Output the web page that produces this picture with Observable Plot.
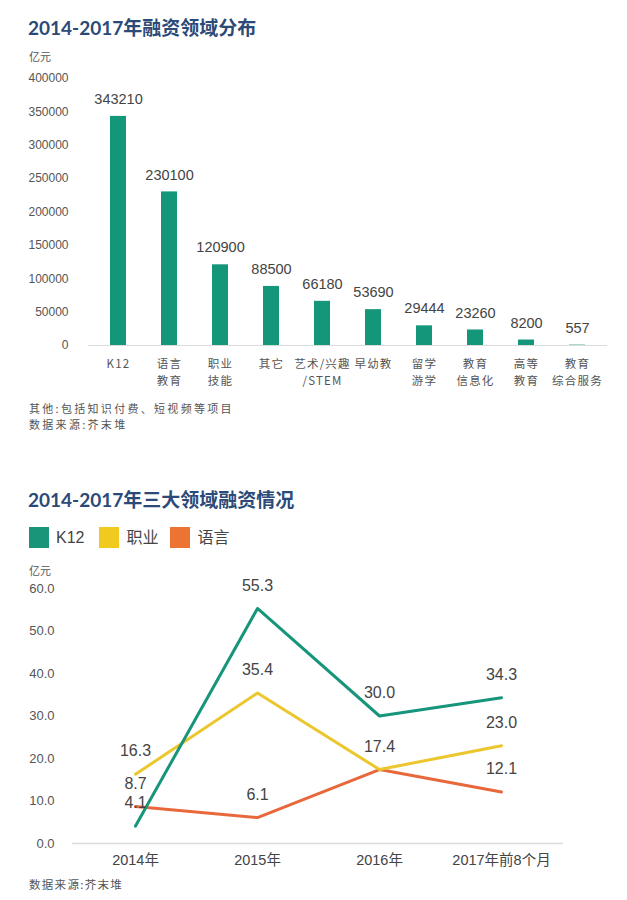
<!DOCTYPE html>
<html><head><meta charset="utf-8">
<script src="https://cdn.jsdelivr.net/npm/d3@7"></script>
<script src="https://cdn.jsdelivr.net/npm/@observablehq/plot@0.6"></script>
<style>
body{margin:0;width:627px;height:900px;position:relative;background:#fff;font-family:"Liberation Sans","Noto Sans CJK SC",sans-serif;color:#444;overflow:hidden}
.abs{position:absolute;white-space:nowrap}
.title{font-family:"Lato","Noto Sans CJK SC",sans-serif;font-weight:bold;font-size:19px;color:#2b4a78;line-height:1}
.unit{font-size:11px;color:#555;line-height:1}
.note{font-family:"Noto Sans CJK SC",sans-serif;font-size:11px;letter-spacing:2.3px;color:#555;line-height:16px}
.leg{font-size:16px;color:#444;line-height:20px;display:flex;align-items:center}
.sw{display:inline-block;width:20px;height:21px;margin-right:7px}
svg{overflow:visible}
</style></head>
<body>
<div class="abs title" style="left:28px;top:18px">2014-2017年融资领域分布</div>
<div class="abs unit" style="left:29px;top:52px">亿元</div>
<div id="c1" class="abs" style="left:0;top:70px"></div>
<div class="abs note" style="left:29px;top:400px">其他:包括知识付费、短视频等项目</div>
<div class="abs note" style="left:29px;top:416px">数据来源:芥末堆</div>

<div class="abs title" style="left:28px;top:490px">2014-2017年三大领域融资情况</div>
<div id="legend" class="abs" style="left:29px;top:527px;display:flex"></div>
<div class="abs unit" style="left:29px;top:566px">亿元</div>
<div id="c2" class="abs" style="left:0;top:580px"></div>
<div class="abs note" style="left:29px;top:876px;font-size:11.5px;letter-spacing:1.3px">数据来源:芥末堆</div>

<script>
// ---- Chart 1 data ----
const categories = ["K12","语言\n教育","职业\n技能","其它","艺术/兴趣\n/STEM","早幼教","留学\n游学","教育\n信息化","高等\n教育","教育\n综合服务"];
const amounts = [343210,230100,120900,88500,66180,53690,29444,23260,8200,557];
const yTicks1 = [0,50000,100000,150000,200000,250000,300000,350000,400000];

// ---- Chart 2 data ----
const years = ["2014年","2015年","2016年","2017年前8个月"];
const seriesNames = ["K12","职业","语言"];
const k12 = [4.1,55.3,30.0,34.3];
const zhiye = [16.3,35.4,17.4,23.0];
const yuyan = [8.7,6.1,17.4,12.1];
const yTicks2 = [0,10,20,30,40,50,60];
const seriesColors = ["#17957a","#ebc62c","#e8683c"];
const swatchColors = ["#19957a","#f1ca1f","#ec7332"];

const bars = categories.map((c,i)=>({cat:c, v:amounts[i]}));

const c1 = Plot.plot({
  width:627, height:330,
  marginTop:8, marginBottom:55, marginLeft:88, marginRight:20,
  style:{fontFamily:'"Liberation Sans","Noto Sans CJK SC",sans-serif', background:"transparent"},
  x:{domain:categories, paddingInner:0.69, paddingOuter:0.37},
  y:{domain:[0,400000]},
  marks:[
    Plot.ruleY([0],{stroke:"#dcdcdc", strokeWidth:1}),
    Plot.barY(bars,{x:"cat", y:"v", fill:"#14967a"}),
    Plot.text(bars,{x:"cat", y:"v", text:d=>String(d.v), dy:-17, fontSize:14.5, fill:"#444"}),
    Plot.axisY({ticks:yTicks1, tickSize:0, tickPadding:20, fontSize:12, color:"#555", label:null, tickFormat:d3.format("d")}),
    Plot.axisX({tickSize:0, tickPadding:11, fontSize:11.5, lineHeight:1.46, color:"#555", label:null, fontFamily:'"Noto Sans CJK SC",sans-serif'})
  ]
});
d3.select(c1).selectAll('g[aria-label="x-axis tick label"] text').attr("letter-spacing","1.2px");
document.getElementById("c1").appendChild(c1);

// legend
const leg = document.getElementById("legend");
seriesNames.forEach((s,i)=>{
  const d = document.createElement("div");
  d.className="leg";
  d.style.marginRight = i===0 ? "15px" : "12px";
  d.innerHTML = `<span class="sw" style="background:${swatchColors[i]}"></span><span>${s}</span>`;
  leg.appendChild(d);
});

const seriesVals = [k12, zhiye, yuyan];
const rows = [];
seriesNames.forEach((s,si)=>years.forEach((y,yi)=>rows.push({series:s, year:y, v:seriesVals[si][yi]})));
const drawOrder = ["语言","职业","K12"];
const lineRows = drawOrder.flatMap(s=>rows.filter(r=>r.series===s));
const seen = new Set();
const labelRows = rows.filter(r=>{const k=r.year+"|"+r.v; if(seen.has(k)) return false; seen.add(k); return true;});

const c2 = Plot.plot({
  width:627, height:295,
  marginTop:8, marginBottom:32, marginLeft:72, marginRight:64,
  style:{fontFamily:'"Liberation Sans","Noto Sans CJK SC",sans-serif', background:"transparent"},
  x:{type:"point", domain:years, padding:0.5},
  y:{domain:[0,60]},
  color:{domain:seriesNames, range:seriesColors},
  marks:[
    Plot.ruleY([0],{stroke:"#dcdcdc", strokeWidth:1.5}),
    Plot.line(lineRows,{x:"year", y:"v", z:"series", stroke:"series", strokeWidth:3}),
    Plot.text(labelRows,{x:"year", y:"v", text:d=>d3.format(".1f")(d.v), dy:-23, fontSize:16, fill:"#444"}),
    Plot.axisY({ticks:yTicks2, tickSize:0, tickPadding:18, fontSize:13, color:"#555", label:null, tickFormat:d3.format(".1f")}),
    Plot.axisX({tickSize:0, tickPadding:11, fontSize:14.5, color:"#444", label:null})
  ]
});
document.getElementById("c2").appendChild(c2);
</script>
</body></html>
